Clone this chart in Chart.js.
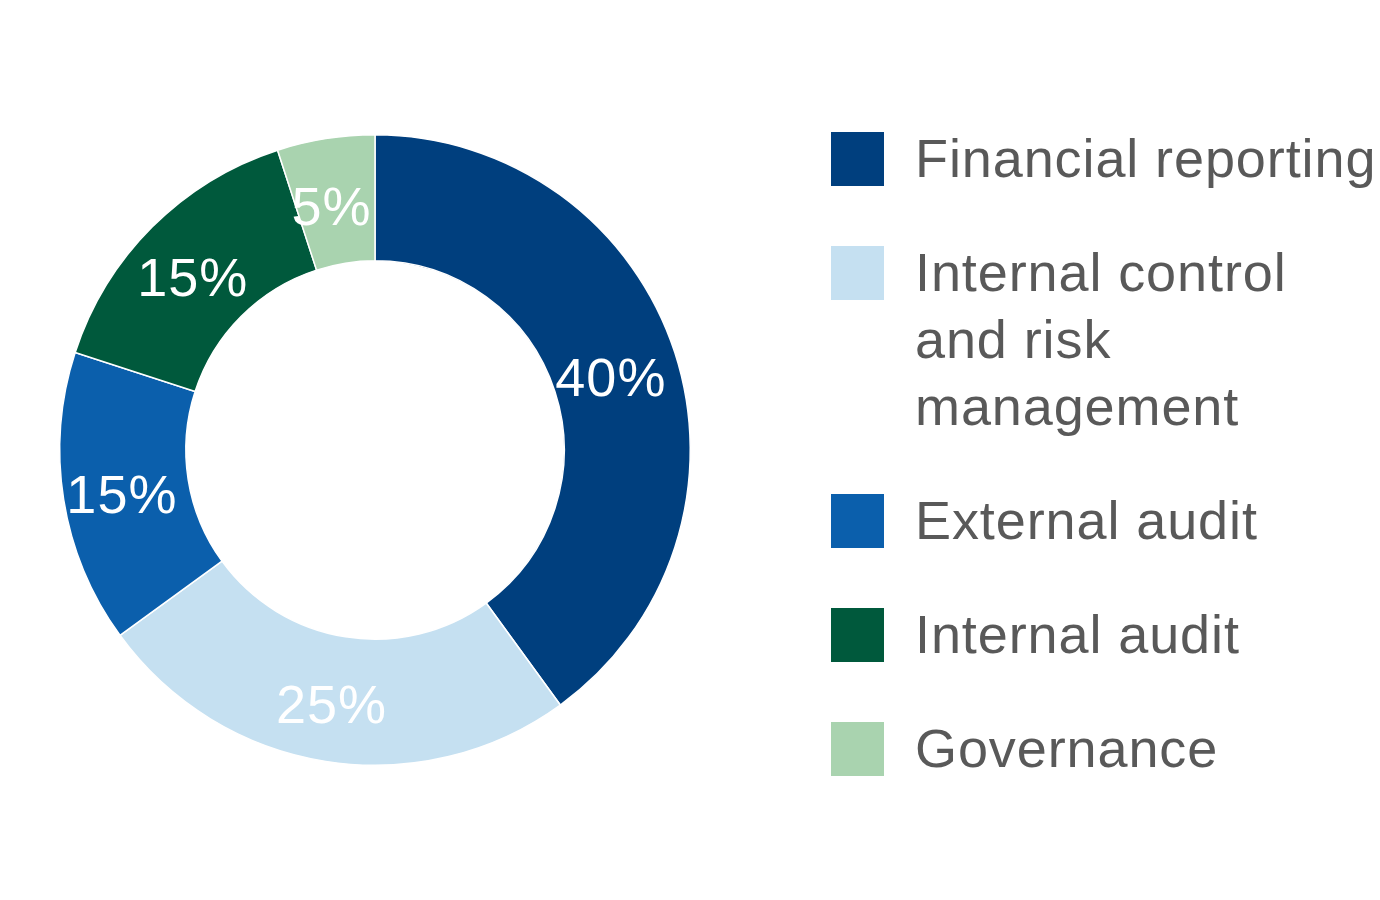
<!DOCTYPE html>
<html>
<head>
<meta charset="utf-8">
<script src="https://cdn.jsdelivr.net/npm/chart.js@4.4.0/dist/chart.umd.min.js"></script>
<style>
  html, body { margin: 0; padding: 0; background: #ffffff; }
  #wrap { width: 1380px; height: 900px; }
</style>
</head>
<body>
<div id="wrap"><canvas id="c" width="1380" height="900"></canvas></div>
<script>
// Data
const categories = [
  ["Financial reporting"],
  ["Internal control", "and risk", "management"],
  ["External audit"],
  ["Internal audit"],
  ["Governance"]
];
const shares = [40, 25, 15, 15, 5];
const valueLabels = ["40%", "25%", "15%", "15%", "5%"];
const colors = ["#003F7E", "#C5E0F1", "#0B5FAC", "#00593C", "#A9D3AF"];

const FONT = "'Liberation Sans', Arial, sans-serif";

const sliceLabels = {
  id: 'sliceLabels',
  afterDatasetsDraw(chart) {
    const ctx = chart.ctx;
    const meta = chart.getDatasetMeta(0);
    ctx.save();
    ctx.fillStyle = '#ffffff';
    ctx.font = '54px ' + FONT;
    try { ctx.letterSpacing = '1px'; } catch (e) {}
    ctx.textAlign = 'center';
    ctx.textBaseline = 'middle';
    meta.data.forEach((arc, i) => {
      const p = arc.getCenterPoint();
      ctx.fillText(valueLabels[i], p.x - 4, p.y + 9);
    });
    ctx.restore();
  }
};

const sideLegend = {
  id: 'sideLegend',
  afterDraw(chart) {
    const ctx = chart.ctx;
    const labels = chart.data.labels;
    const bg = chart.data.datasets[0].backgroundColor;
    const boxX = 831, boxW = 53, boxH = 54, textX = 915;
    const itemGap = 114, lineH = 67;
    let cy = 159;
    ctx.save();
    ctx.font = '54px ' + FONT;
    try { ctx.letterSpacing = '0.9px'; } catch (e) {}
    ctx.textAlign = 'left';
    ctx.textBaseline = 'alphabetic';
    labels.forEach((lab, i) => {
      const lines = Array.isArray(lab) ? lab : [lab];
      ctx.fillStyle = bg[i];
      ctx.fillRect(boxX, cy - boxH / 2, boxW, boxH);
      ctx.fillStyle = '#595959';
      lines.forEach((ln, j) => {
        ctx.fillText(ln, textX, cy + 18 + j * lineH);
      });
      cy += itemGap + (lines.length - 1) * lineH;
    });
    ctx.restore();
  }
};

new Chart(document.getElementById('c'), {
  type: 'doughnut',
  data: {
    labels: categories,
    datasets: [{
      data: shares,
      backgroundColor: colors,
      borderColor: '#ffffff',
      borderWidth: 1.5,
      hoverOffset: 0
    }]
  },
  options: {
    responsive: false,
    animation: false,
    cutout: '60%',
    layout: { padding: { left: 59, top: 134, right: 689, bottom: 134 } },
    plugins: {
      legend: { display: false },
      tooltip: { enabled: false }
    }
  },
  plugins: [sliceLabels, sideLegend]
});
</script>
</body>
</html>
